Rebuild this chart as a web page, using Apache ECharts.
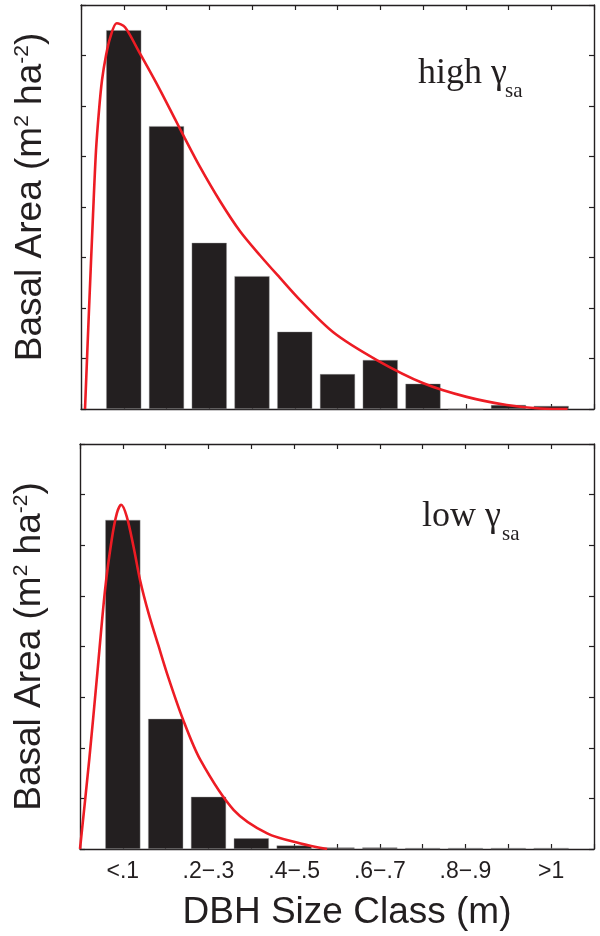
<!DOCTYPE html>
<html>
<head>
<meta charset="utf-8">
<script src="https://cdn.jsdelivr.net/npm/echarts@6/dist/echarts.min.js"></script>
<style>
  html, body { margin: 0; padding: 0; background: #fff; }
  #chart { width: 600px; height: 936px; }
</style>
</head>
<body>
<div id="chart"></div>
<script>
// DBH size classes (m); bars sit at positions 1..11 on the x scale
const categories = ['<.1', '.1\u2212.2', '.2\u2212.3', '.3\u2212.4', '.4\u2212.5', '.5\u2212.6',
                    '.6\u2212.7', '.7\u2212.8', '.8\u2212.9', '.9\u22121', '>1'];

// basal area per size class
const highBars = [7.50, 5.60, 3.29, 2.63, 1.53, 0.69, 0.97, 0.50, 0.00, 0.08, 0.06];
const lowBars  = [6.50, 2.57, 1.03, 0.21, 0.07, 0.03, 0.03, 0.02, 0.02, 0.02, 0.02];

// fitted distribution curves (x in class units, y in basal area units)
const highCurveX = [0.094, 0.187, 0.281, 0.351, 0.421, 0.491, 0.585, 0.678, 0.835, 1.03, 1.34, 1.81,
                    2.20, 2.43, 2.78, 3.25, 3.72, 4.19, 4.65, 5.12, 5.90, 6.92, 8.01, 9.02, 9.96,
                    10.74, 11.38];
const highCurveY = [0.00, 1.96, 3.84, 5.12, 5.91, 6.51, 7.00, 7.34, 7.64, 7.56, 7.10, 6.38,
                    5.74, 5.36, 4.80, 4.12, 3.52, 3.04, 2.60, 2.16, 1.52, 0.97, 0.51, 0.24, 0.08,
                    0.01, 0.00];
const lowCurveX = [0.00, 0.22, 0.39, 0.585, 0.74, 0.86, 0.96, 1.09, 1.25, 1.40, 1.60, 1.83, 2.05,
                   2.40, 2.81, 3.59, 4.37, 5.15, 5.77];
const lowCurveY = [0.00, 1.80, 3.34, 5.12, 6.11, 6.63, 6.80, 6.57, 5.97, 5.32, 4.66, 4.02, 3.42,
                   2.57, 1.76, 0.77, 0.31, 0.11, 0.00];

const INK = '#231f20';
const RED = '#ed1c24';
const SANS = '"Liberation Sans", Arial, Helvetica, sans-serif';
const SERIF = '"Liberation Serif", "Times New Roman", serif';

const zip = (xs, ys) => xs.map((x, i) => [x, ys[i]]);
const barData = vals => vals.map((v, i) => [i + 1, v]);

const axisLine = { show: true, onZero: false, lineStyle: { color: INK, width: 1.4 } };
const axisTick = { show: true, inside: true, length: 5, lineStyle: { color: INK, width: 1.2 } };

const yName = 'Basal Area (m{sup|2} ha{sup|-2})';
function yNameStyle(shift) {
  return {
    fontFamily: SANS, fontSize: 37, color: INK,
    padding: shift > 0 ? [0, 0, 0, shift] : [0, -shift, 0, 0],
    rich: { sup: { fontFamily: SANS, fontSize: 21, color: INK, padding: [0, 0, 16, 0] } }
  };
}

function xAxisPair(gridIndex, withLabels) {
  return [
    {
      gridIndex, type: 'value', position: 'bottom', min: 0, max: 12, interval: 1,
      axisLine, axisTick, splitLine: { show: false },
      axisLabel: {
        show: withLabels, margin: 11, fontFamily: SANS, fontSize: 23, color: INK,
        showMinLabel: true, showMaxLabel: true,
        formatter: v => (v >= 1 && v <= 11 && v % 2 === 1) ? categories[v - 1] : ''
      },
      name: withLabels ? 'DBH Size Class (m)' : '',
      nameLocation: 'middle', nameGap: 45,
      nameTextStyle: { fontFamily: SANS, fontSize: 37, color: INK, padding: [0, 0, 0, 20] }
    },
    {
      gridIndex, type: 'value', position: 'top', min: 0, max: 12, interval: 1,
      axisLine, axisTick, splitLine: { show: false }, axisLabel: { show: false }
    }
  ];
}

function yAxisPair(gridIndex, shift) {
  return [
    {
      gridIndex, type: 'value', position: 'left', min: 0, max: 8, interval: 1,
      axisLine, axisTick, splitLine: { show: false }, axisLabel: { show: false },
      name: yName, nameLocation: 'middle', nameGap: 32, nameTextStyle: yNameStyle(shift)
    },
    {
      gridIndex, type: 'value', position: 'right', min: 0, max: 8, interval: 1,
      axisLine, axisTick, splitLine: { show: false }, axisLabel: { show: false }
    }
  ];
}

function panelSeries(idx, bars, cx, cy) {
  return [
    {
      type: 'bar', xAxisIndex: idx * 2, yAxisIndex: idx * 2,
      data: barData(bars), barWidth: 35,
      itemStyle: { color: INK, borderColor: '#9a9a9a', borderWidth: 0.4 },
      silent: true, animation: false
    },
    {
      type: 'line', xAxisIndex: idx * 2, yAxisIndex: idx * 2,
      data: zip(cx, cy), smooth: 0.3, showSymbol: false,
      lineStyle: { color: RED, width: 2.6 }, z: 3, silent: true, animation: false
    }
  ];
}

const chart = echarts.init(document.getElementById('chart'), null, { renderer: 'canvas' });
chart.setOption({
  backgroundColor: '#fff',
  animation: false,
  grid: [
    { left: 81, top: 5, width: 513, height: 404, containLabel: false },
    { left: 80, top: 444, width: 514, height: 405, containLabel: false }
  ],
  xAxis: [...xAxisPair(0, false), ...xAxisPair(1, true)],
  yAxis: [...yAxisPair(0, 20), ...yAxisPair(1, 0)],
  series: [
    ...panelSeries(0, highBars, highCurveX, highCurveY),
    ...panelSeries(1, lowBars, lowCurveX, lowCurveY)
  ],
  graphic: [
    { type: 'text', left: 418, top: 56,
      style: { text: 'high \u03b3', font: '36px ' + SERIF, fill: INK } },
    { type: 'text', left: 505, top: 81,
      style: { text: 'sa', font: '21px ' + SERIF, fill: INK } },
    { type: 'text', left: 422, top: 499,
      style: { text: 'low \u03b3', font: '36px ' + SERIF, fill: INK } },
    { type: 'text', left: 502, top: 524,
      style: { text: 'sa', font: '21px ' + SERIF, fill: INK } }
  ]
});
</script>
</body>
</html>
